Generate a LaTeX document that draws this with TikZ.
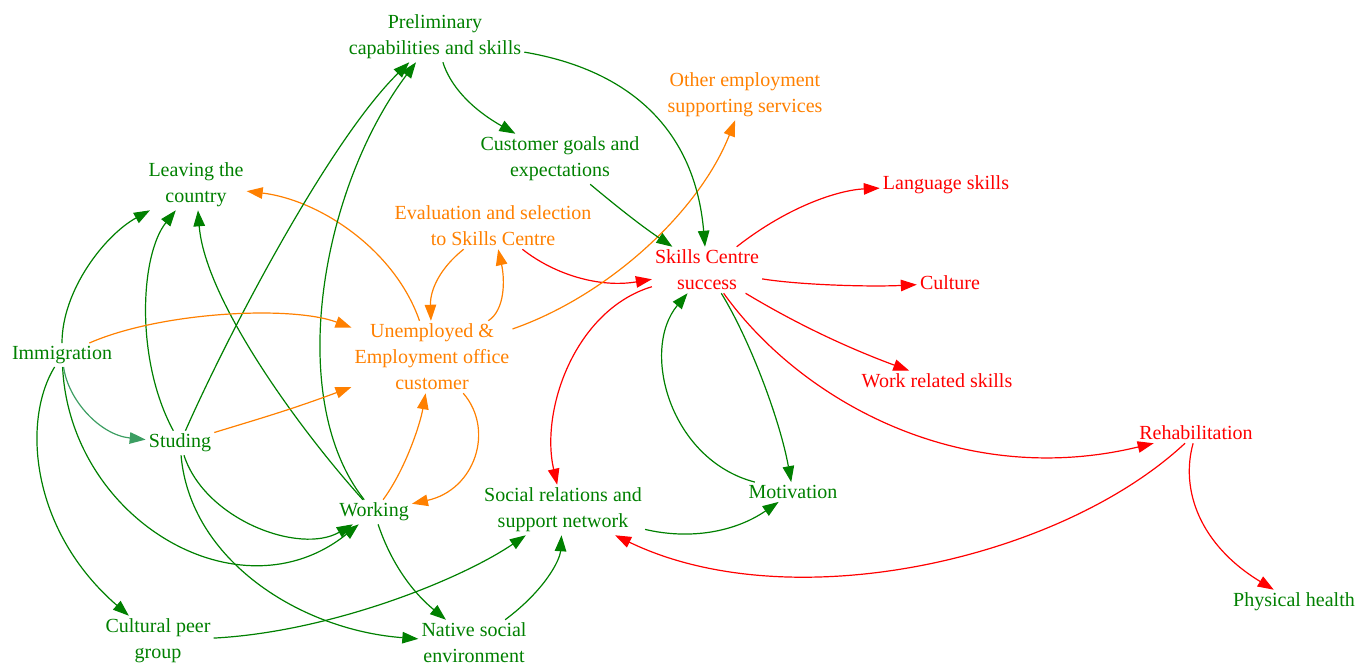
\documentclass[tikz,border=0pt]{standalone}
\usepackage{fontspec}
\setmainfont{Liberation Serif}
\newfontfamily\lblfont{Liberation Serif}
\usetikzlibrary{arrows.meta}
\definecolor{cg}{RGB}{0,128,0}
\definecolor{co}{RGB}{255,128,0}
\definecolor{cr}{RGB}{255,0,0}
\definecolor{csg}{RGB}{60,158,98}
\tikzset{
  lbl/.style={inner sep=3pt, align=center, font=\lblfont\fontsize{20}{26}\selectfont},
  gn/.style={lbl, text=cg},
  on/.style={lbl, text=co},
  rn/.style={lbl, text=cr},
  edge/.style={line width=1.2pt, -{Triangle[length=16pt,width=11.5pt]}},
  ge/.style={edge, draw=cg},
  oe/.style={edge, draw=co},
  re/.style={edge, draw=cr},
  se/.style={edge, draw=csg},
}
\begin{document}
\begin{tikzpicture}[x=1pt,y=-1pt]
\useasboundingbox (0,0) rectangle (1360,665);
% nodes
\node[gn] (prel) at (435,37) {Preliminary\\capabilities and skills};
\node[on] (other) at (745,95) {Other employment\\supporting services};
\node[gn] (cust) at (560,159) {Customer goals and\\expectations};
\node[gn] (leave) at (196,185) {Leaving the\\country};
\node[on] (eval) at (493,226) {Evaluation and selection\\to Skills Centre};
\node[rn] (skills) at (707,270) {Skills Centre\\success};
\node[rn] (lang) at (946,185) {Language skills};
\node[rn] (cult) at (950,283) {Culture};
\node[rn] (work) at (937,381) {Work related skills};
\node[gn] (imm) at (62,355) {Immigration};
\node[on] (unemp) at (432,357) {Unemployed \&\\Employment office\\customer};
\node[gn] (stud) at (180,443) {Studing};
\node[rn] (rehab) at (1196,433) {Rehabilitation};
\node[gn] (motiv) at (793,492) {Motivation};
\node[gn] (wkg) at (374,512) {Working};
\node[gn] (social) at (563,510) {Social relations and\\support network};
\node[gn] (phys) at (1294,602) {Physical health};
\node[gn] (peer) at (158,641) {Cultural peer\\group};
\node[gn] (native) at (474,643) {Native social\\environment};
% edges
\draw[ge] (imm) .. controls (62,290) and (105,235) .. (leave);
\draw[ge] (stud) .. controls (135,360) and (140,255) .. (leave);
\draw[ge] (wkg) .. controls (300,430) and (205,300) .. (leave);
\draw[oe] (unemp) .. controls (395,250) and (320,200) .. (leave);
\draw[ge] (stud) .. controls (230,330) and (330,140) .. (prel);
\draw[ge] (wkg) .. controls (285,400) and (320,190) .. (prel);
\draw[oe] (imm) .. controls (160,312) and (290,305) .. (unemp);
\draw[oe] (stud) .. controls (255,420) and (290,410) .. (unemp);
\draw[oe] (wkg) .. controls (405,470) and (420,425) .. (unemp);
\draw[oe] (unemp) .. controls (495,430) and (475,490) .. (wkg);
\draw[oe] (eval) .. controls (440,268) and (430,290) .. (unemp);
\draw[oe] (unemp) .. controls (505,310) and (505,280) .. (eval);
\draw[re] (eval) .. controls (555,275) and (600,288) .. (skills);
\draw[oe] (unemp) .. controls (610,295) and (700,210) .. (other);
\draw[ge] (prel) .. controls (450,85) and (470,108) .. (cust);
\draw[ge] (prel) .. controls (630,70) and (695,130) .. (skills);
\draw[ge] (cust) .. controls (615,205) and (640,225) .. (skills);
\draw[re] (skills) .. controls (790,205) and (840,190) .. (lang);
\draw[re] (skills) .. controls (800,285) and (870,287) .. (cult);
\draw[re] (skills) .. controls (790,320) and (840,345) .. (work);
\draw[re] (skills) .. controls (800,400) and (960,490) .. (rehab);
\draw[ge] (skills) .. controls (750,340) and (780,420) .. (motiv);
\draw[ge] (motiv) .. controls (670,460) and (640,350) .. (skills);
\draw[re] (skills) .. controls (575,310) and (540,410) .. (social);
\draw[re] (rehab) .. controls (1060,560) and (790,620) .. (social);
\draw[re] (rehab) .. controls (1180,490) and (1200,545) .. (phys);
\draw[ge] (social) .. controls (690,540) and (735,532) .. (motiv);
\draw[ge] (native) .. controls (545,590) and (560,560) .. (social);
\draw[ge] (peer) .. controls (330,632) and (460,580) .. (social);
\draw[ge] (wkg) .. controls (390,560) and (410,590) .. (native);
\draw[ge] (stud) .. controls (190,560) and (300,630) .. (native);
\draw[ge] (stud) .. controls (205,520) and (300,555) .. (wkg);
\draw[ge] (imm) .. controls (70,520) and (240,620) .. (wkg);
\draw[se] (imm) .. controls (68,400) and (100,435) .. (stud);
\draw[ge] (imm) .. controls (22,420) and (30,530) .. (peer);
\end{tikzpicture}
\end{document}
